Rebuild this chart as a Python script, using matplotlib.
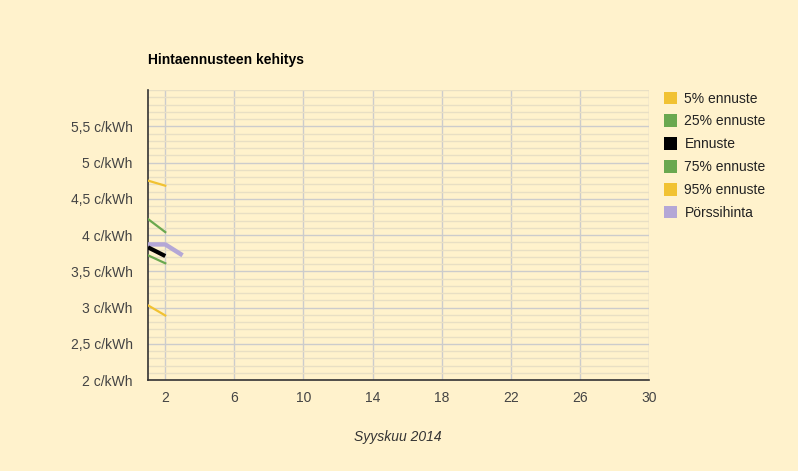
import matplotlib as mpl
mpl.use('Agg')
import matplotlib.pyplot as plt
from matplotlib.patches import Patch
from matplotlib.ticker import MultipleLocator, FixedLocator

plt.rcParams['font.family'] = ['Liberation Sans', 'DejaVu Sans']

# forecast history, September 2014 (day of month -> c/kWh)
days_fc = [1, 2]
p5 = [3.03, 2.89]
p25 = [3.72, 3.61]
ennuste = [3.83, 3.71]
p75 = [4.22, 4.04]
p95 = [4.75, 4.68]

days_spot = [1, 2, 3]
porssi = [3.87, 3.87, 3.72]

labels = ['5% ennuste', '25% ennuste', 'Ennuste', '75% ennuste', '95% ennuste', 'Pörssihinta']
colors = ['#f1c232', '#6aa84f', '#000000', '#6aa84f', '#f1c232', '#b4a7d6']

bg = '#fff2cc'
fig = plt.figure(figsize=(7.98, 4.71), dpi=100, facecolor=bg)
ax = fig.add_axes([148/798, 1-380/471, (649-148)/798, (380-90)/471])
ax.set_facecolor(bg)

ax.plot(days_fc, p5, color=colors[0], lw=1.6, zorder=3)
ax.plot(days_fc, p25, color=colors[1], lw=1.6, zorder=3)
ax.plot(days_fc, p75, color=colors[3], lw=1.6, zorder=3)
ax.plot(days_fc, p95, color=colors[4], lw=1.6, zorder=3)
ax.plot(days_spot, porssi, color=colors[5], lw=3.2, zorder=3, solid_capstyle='butt')
ax.plot(days_fc, ennuste, color=colors[2], lw=3.0, zorder=4, solid_capstyle='butt')

ax.set_xlim(1, 30)
ax.set_ylim(2, 6)
ax.xaxis.set_major_locator(FixedLocator([2, 6, 10, 14, 18, 22, 26, 30]))
ax.yaxis.set_major_locator(FixedLocator([2, 2.5, 3, 3.5, 4, 4.5, 5, 5.5]))
ax.yaxis.set_minor_locator(MultipleLocator(0.1))
ax.set_yticklabels([('%g' % v).replace('.', ',') + ' c/kWh' for v in [2, 2.5, 3, 3.5, 4, 4.5, 5, 5.5]])

ax.grid(True, which='major', color='#cccccc', lw=1.0, zorder=1)
ax.grid(True, which='minor', axis='y', color='#e8dfc4', lw=1.0, zorder=0)
ax.tick_params(which='both', length=0, labelsize=10, colors='#444444')
ax.tick_params(axis='y', pad=11)
ax.tick_params(axis='x', pad=8)
for s in ['top', 'right']:
    ax.spines[s].set_visible(False)
for s in ['left', 'bottom']:
    ax.spines[s].set_color('#333333')
    ax.spines[s].set_linewidth(1.2)

fig.text(148/798, 1-60/471, 'Hintaennusteen kehitys', fontsize=10, fontweight='bold', va='center', ha='left')
fig.text(398/798, 1-437/471, 'Syyskuu 2014', fontsize=10, style='italic', color='#333333', va='center', ha='center')

handles = [Patch(facecolor=c, edgecolor='none') for c in colors]
leg = fig.legend(handles, labels, loc='upper left', bbox_to_anchor=(658/798, 1-86/471),
                 frameon=False, fontsize=10, handlelength=1.0, handleheight=1.0,
                 handletextpad=0.5, labelspacing=0.64, borderaxespad=0)
for t in leg.get_texts():
    t.set_color('#222222')

plt.savefig('out.png', dpi=100, facecolor=bg)
